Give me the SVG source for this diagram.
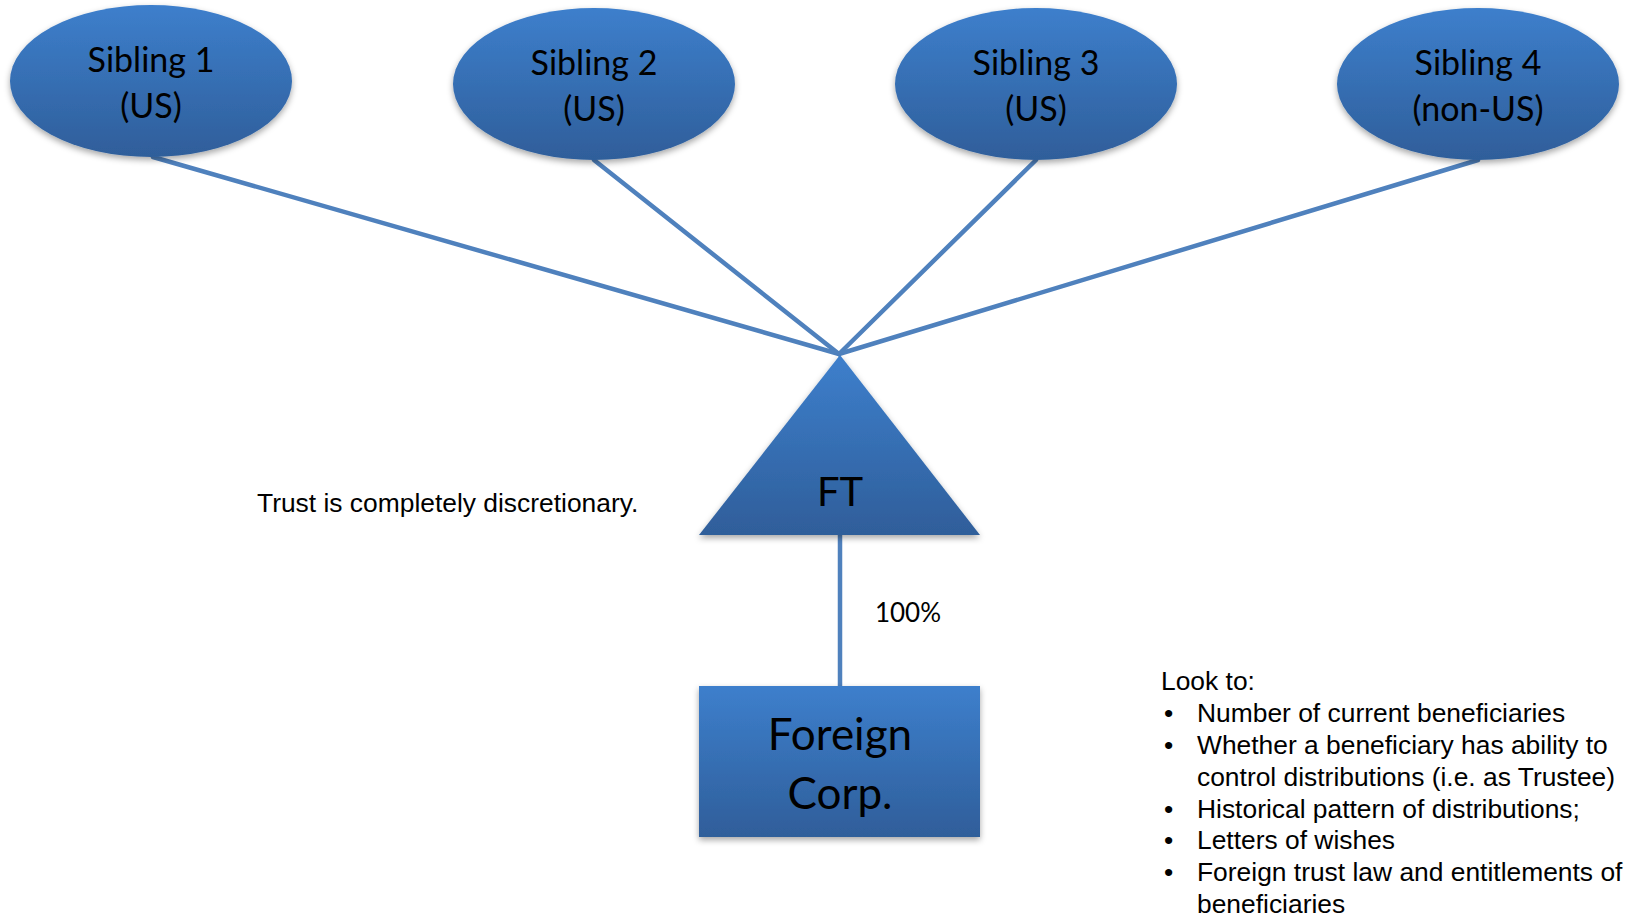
<svg xmlns="http://www.w3.org/2000/svg" width="1629" height="918" viewBox="0 0 1629 918">
<style>
.node{fill:url(#g);filter:url(#sh);}
.lbl{font-family:Lato,"Open Sans","DejaVu Sans",sans-serif;fill:#000;text-anchor:middle;}
.sib{font-size:34px;}
.conn{stroke:#4f81bd;stroke-width:4.5;fill:none;stroke-linecap:round;}
.note{font-family:"Liberation Sans",Arial,sans-serif;font-size:26.4px;fill:#000;}
</style>
<defs>
<linearGradient id="g" x1="0" y1="0" x2="0" y2="1">
<stop offset="0" stop-color="#3d7fcc"/>
<stop offset="1" stop-color="#2f5e9a"/>
</linearGradient>
<filter id="sh" x="-10%" y="-10%" width="120%" height="130%">
<feDropShadow dx="0" dy="3" stdDeviation="3" flood-color="#000" flood-opacity="0.35"/>
</filter>
</defs>
<rect width="1629" height="918" fill="#fff"/>
<g id="connectors">
<line class="conn" x1="153" y1="157" x2="839" y2="354"/>
<line class="conn" x1="594" y1="160" x2="839" y2="354"/>
<line class="conn" x1="1036" y1="160" x2="839" y2="354"/>
<line class="conn" x1="1478" y1="160" x2="839" y2="354"/>
<line class="conn" x1="840" y1="535" x2="840" y2="686"/>
</g>
<g id="sibling1">
<ellipse class="node" cx="151" cy="81" rx="141" ry="76"/>
<text class="lbl sib" x="151" y="72">Sibling 1</text>
<text class="lbl sib" x="151" y="118">(US)</text>
</g>
<g id="sibling2">
<ellipse class="node" cx="594" cy="84" rx="141" ry="76"/>
<text class="lbl sib" x="594" y="75">Sibling 2</text>
<text class="lbl sib" x="594" y="121">(US)</text>
</g>
<g id="sibling3">
<ellipse class="node" cx="1036" cy="84" rx="141" ry="76"/>
<text class="lbl sib" x="1036" y="75">Sibling 3</text>
<text class="lbl sib" x="1036" y="121">(US)</text>
</g>
<g id="sibling4">
<ellipse class="node" cx="1478" cy="84" rx="141" ry="76"/>
<text class="lbl sib" x="1478" y="75">Sibling 4</text>
<text class="lbl sib" x="1478" y="121">(non-US)</text>
</g>
<g id="ft">
<polygon class="node" points="840,355 980,535 699,535"/>
<text class="lbl" x="840" y="506" font-size="40">FT</text>
</g>
<g id="foreign-corp">
<rect class="node" x="699" y="686" width="281" height="151"/>
<text class="lbl" x="840" y="750" font-size="44">Foreign</text>
<text class="lbl" x="840" y="809" font-size="44">Corp.</text>
</g>
<text class="lbl" x="908" y="622" font-size="26">100%</text>
<text class="note" x="257" y="512">Trust is completely discretionary.</text>
<g id="notes" class="note">
<text x="1161" y="690">Look to:</text>
<text x="1164" y="722">•</text><text x="1197" y="722">Number of current beneficiaries</text>
<text x="1164" y="754">•</text><text x="1197" y="754">Whether a beneficiary has ability to</text>
<text x="1197" y="786">control distributions (i.e. as Trustee)</text>
<text x="1164" y="818">•</text><text x="1197" y="818">Historical pattern of distributions;</text>
<text x="1164" y="849">•</text><text x="1197" y="849">Letters of wishes</text>
<text x="1164" y="881">•</text><text x="1197" y="881">Foreign trust law and entitlements of</text>
<text x="1197" y="913">beneficiaries</text>
</g>
</svg>
